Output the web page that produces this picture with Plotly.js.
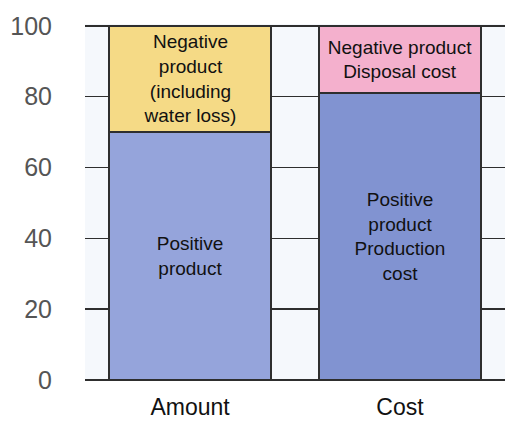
<!DOCTYPE html>
<html>
<head>
<meta charset="utf-8">
<script src="https://cdn.plot.ly/plotly-3.0.1.min.js"></script>
<style>html,body{margin:0;padding:0;background:#fff;}#chart{width:505px;height:423px;}</style>
</head>
<body>
<div id="chart"></div>
<script>
const categories = ['Amount', 'Cost'];
const positiveValues = [70, 81];
const negativeValues = [30, 19];
const positiveLabels = ['Positive<br>product', 'Positive<br>product<br>Production<br>cost'];
const negativeLabels = ['Negative<br>product<br>(including<br>water loss)', 'Negative product<br>Disposal cost'];
const yTicks = [0, 20, 40, 60, 80, 100];

const positiveColors = ['#95a4db', '#8193d1'];
const negativeColors = ['#f5da86', '#f4b0cd'];
const outline = {color: '#2e2e2e', width: 1.6};
const textFont = {family: 'Liberation Sans, Arial, sans-serif', size: 19, color: '#111'};

const traces = [
  {
    type: 'bar', x: categories, y: positiveValues, width: 0.77,
    marker: {color: positiveColors, line: outline},
    text: positiveLabels, textposition: 'inside', insidetextanchor: 'middle',
    textangle: 0, constraintext: 'none', textfont: textFont, hoverinfo: 'none'
  },
  {
    type: 'bar', x: categories, y: negativeValues, width: 0.77,
    marker: {color: negativeColors, line: outline},
    text: negativeLabels, textposition: 'inside', insidetextanchor: 'middle',
    textangle: 0, constraintext: 'none', textfont: textFont, hoverinfo: 'none'
  }
];

const layout = {
  width: 505, height: 423,
  margin: {l: 85, r: 0, t: 24, b: 43, pad: 0},
  barmode: 'stack',
  showlegend: false,
  paper_bgcolor: '#ffffff',
  plot_bgcolor: '#f5f8fc',
  xaxis: {
    range: [-0.5, 1.5], showgrid: false, zeroline: false, showline: false,
    ticks: '', tickfont: {family: 'Liberation Sans, Arial, sans-serif', size: 23, color: '#111'},
    ticklabelstandoff: 11
  },
  yaxis: {
    range: [0, 100.5], tickvals: yTicks, showgrid: true, gridcolor: '#2e2e2e', gridwidth: 1.6,
    zeroline: true, zerolinecolor: '#2e2e2e', zerolinewidth: 1.6, showline: false, ticks: '',
    tickfont: {family: 'Liberation Sans, Arial, sans-serif', size: 25, color: '#555'},
    ticklabelstandoff: 32
  }
};

Plotly.newPlot('chart', traces, layout, {displayModeBar: false, staticPlot: true});
</script>
</body>
</html>
